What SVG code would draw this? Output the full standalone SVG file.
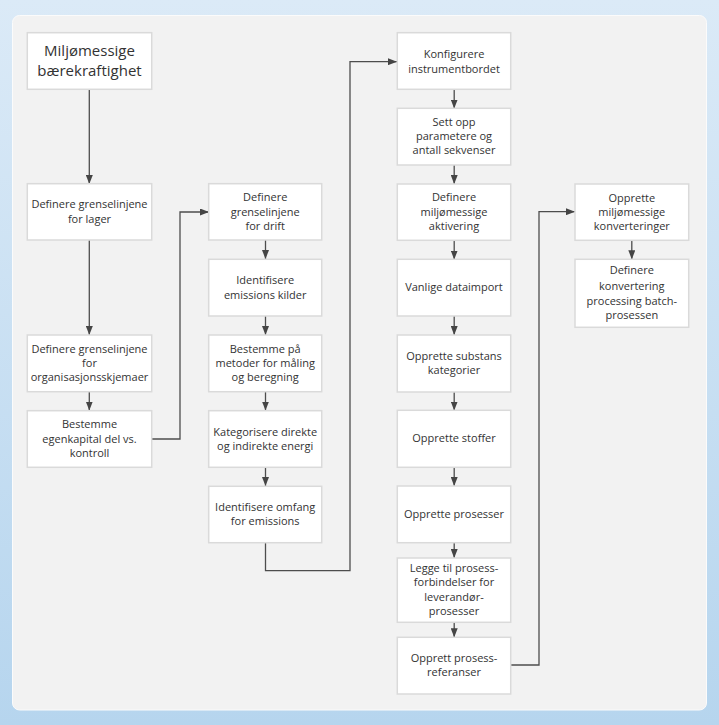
<svg xmlns="http://www.w3.org/2000/svg" width="719" height="725" viewBox="0 0 719 725">
<defs>
<linearGradient id="bg" x1="0" y1="0" x2="0" y2="1">
<stop offset="0" stop-color="#dbeaf7"/>
<stop offset="1" stop-color="#b6d5ee"/>
</linearGradient>
<marker id="ah" viewBox="0 0 10 10" refX="10" refY="5" markerWidth="9" markerHeight="7" markerUnits="userSpaceOnUse" orient="auto" preserveAspectRatio="none">
<path d="M0,0 L10,5 L0,10 z" fill="#454545"/>
</marker>
<style>
.box{fill:#ffffff;stroke:#dadada;stroke-width:1.5}
.t{font-family:"Open Sans","Noto Sans","Liberation Sans",sans-serif;font-size:11px;fill:#333333;text-anchor:middle}
.tt{font-family:"Open Sans","Noto Sans","Liberation Sans",sans-serif;font-size:15px;fill:#333333;text-anchor:middle}
.c{fill:none;stroke:#4d4d4d;stroke-width:1.3;marker-end:url(#ah)}
</style>
</defs>
<rect x="0" y="0" width="719" height="725" fill="url(#bg)"/>
<rect x="12.5" y="15.5" width="694" height="694.5" rx="7" fill="#f2f2f2" stroke="#fbfbfb" stroke-width="1"/>

<g id="connectors">
<path class="c" d="M89.3 89.3 V184"/>
<path class="c" d="M89.3 240 V335"/>
<path class="c" d="M89.3 391.7 V410.5"/>
<path class="c" d="M152 439 H180 V212 H209"/>
<path class="c" d="M265.5 240 V259"/>
<path class="c" d="M265.5 316 V335"/>
<path class="c" d="M265.5 391.7 V410.5"/>
<path class="c" d="M265.5 467.3 V486"/>
<path class="c" d="M265.5 542.7 V570.7 H350 V61.7 H397"/>
<path class="c" d="M454.2 89.3 V108.5"/>
<path class="c" d="M454.2 165 V184"/>
<path class="c" d="M454.2 240.3 V259.5"/>
<path class="c" d="M454.2 316 V335"/>
<path class="c" d="M454.2 392 V410.5"/>
<path class="c" d="M454.2 467.3 V486"/>
<path class="c" d="M454.2 542.7 V558"/>
<path class="c" d="M454.2 622.3 V637.3"/>
<path class="c" d="M510.7 665 H539 V211.7 H575"/>
<path class="c" d="M631.8 240.3 V259.3"/>
</g>

<g id="n-title">
<rect class="box" x="27.3" y="32.7" width="124.4" height="56.6"/>
<text class="tt" x="89.5" y="56">Miljømessige</text>
<text class="tt" x="89.5" y="76">bærekraftighet</text>
</g>
<g id="n-lager">
<rect class="box" x="27.3" y="183.7" width="124.4" height="56.3"/>
<text class="t" x="89.5" y="208">Definere grenselinjene</text>
<text class="t" x="89.5" y="223">for lager</text>
</g>
<g id="n-org">
<rect class="box" x="27.3" y="335" width="124.4" height="56.7"/>
<text class="t" x="89.5" y="352.5">Definere grenselinjene</text>
<text class="t" x="89.5" y="367">for</text>
<text class="t" x="89.5" y="381">organisasjonsskjemaer</text>
</g>
<g id="n-egenkapital">
<rect class="box" x="27.3" y="410.7" width="124.4" height="56.6"/>
<text class="t" x="89.5" y="428">Bestemme</text>
<text class="t" x="89.5" y="442.5">egenkapital del vs.</text>
<text class="t" x="89.5" y="456.5">kontroll</text>
</g>

<g id="n-drift">
<rect class="box" x="208.7" y="183.7" width="113" height="56.3"/>
<text class="t" x="265.2" y="201">Definere</text>
<text class="t" x="265.2" y="215.5">grenselinjene</text>
<text class="t" x="265.2" y="230">for drift</text>
</g>
<g id="n-kilder">
<rect class="box" x="208.7" y="259.3" width="113" height="56.7"/>
<text class="t" x="265.2" y="284">Identifisere</text>
<text class="t" x="265.2" y="298.5">emissions kilder</text>
</g>
<g id="n-metoder">
<rect class="box" x="208.7" y="335" width="113" height="56.7"/>
<text class="t" x="265.2" y="352.5">Bestemme på</text>
<text class="t" x="265.2" y="367">metoder for måling</text>
<text class="t" x="265.2" y="381">og beregning</text>
</g>
<g id="n-kategorisere">
<rect class="box" x="208.7" y="410.7" width="113" height="56.6"/>
<text class="t" x="265.2" y="435.5">Kategorisere direkte</text>
<text class="t" x="265.2" y="450">og indirekte energi</text>
</g>
<g id="n-omfang">
<rect class="box" x="208.7" y="486.3" width="113" height="56.4"/>
<text class="t" x="265.2" y="511">Identifisere omfang</text>
<text class="t" x="265.2" y="525">for emissions</text>
</g>

<g id="n-konfigurere">
<rect class="box" x="397.3" y="32.7" width="113.4" height="56.6"/>
<text class="t" x="454" y="58.3">Konfigurere</text>
<text class="t" x="454" y="72.5">instrumentbordet</text>
</g>
<g id="n-settopp">
<rect class="box" x="397.3" y="108.3" width="113.4" height="56.7"/>
<text class="t" x="454" y="125.5">Sett opp</text>
<text class="t" x="454" y="139.7">parametere og</text>
<text class="t" x="454" y="154">antall sekvenser</text>
</g>
<g id="n-aktivering">
<rect class="box" x="397.3" y="184" width="113.4" height="56.3"/>
<text class="t" x="454" y="201">Definere</text>
<text class="t" x="454" y="215.5">miljømessige</text>
<text class="t" x="454" y="229.7">aktivering</text>
</g>
<g id="n-dataimport">
<rect class="box" x="397.3" y="259.3" width="113.4" height="56.7"/>
<text class="t" x="454" y="291.3">Vanlige dataimport</text>
</g>
<g id="n-substans">
<rect class="box" x="397.3" y="335" width="113.4" height="57"/>
<text class="t" x="454" y="359.7">Opprette substans</text>
<text class="t" x="454" y="373.7">kategorier</text>
</g>
<g id="n-stoffer">
<rect class="box" x="397.3" y="410.3" width="113.4" height="57"/>
<text class="t" x="454" y="442.3">Opprette stoffer</text>
</g>
<g id="n-prosesser">
<rect class="box" x="397.3" y="486" width="113.4" height="56.7"/>
<text class="t" x="454" y="518">Opprette prosesser</text>
</g>
<g id="n-forbindelser">
<rect class="box" x="397.3" y="558" width="113.4" height="64.3"/>
<text class="t" x="454" y="572">Legge til prosess-</text>
<text class="t" x="454" y="586">forbindelser for</text>
<text class="t" x="454" y="600.5">leverandør-</text>
<text class="t" x="454" y="615">prosesser</text>
</g>
<g id="n-referanser">
<rect class="box" x="397.3" y="637.3" width="113.4" height="56.7"/>
<text class="t" x="454" y="662">Opprett prosess-</text>
<text class="t" x="454" y="676">referanser</text>
</g>

<g id="n-konverteringer">
<rect class="box" x="575" y="184" width="113.7" height="56.3"/>
<text class="t" x="631.8" y="201.5">Opprette</text>
<text class="t" x="631.8" y="215.5">miljømessige</text>
<text class="t" x="631.8" y="229.7">konverteringer</text>
</g>
<g id="n-batch">
<rect class="box" x="575" y="259.3" width="113.7" height="68"/>
<text class="t" x="631.8" y="274">Definere</text>
<text class="t" x="631.8" y="289.5">konvertering</text>
<text class="t" x="631.8" y="304.5">processing batch-</text>
<text class="t" x="631.8" y="319">prosessen</text>
</g>
</svg>
